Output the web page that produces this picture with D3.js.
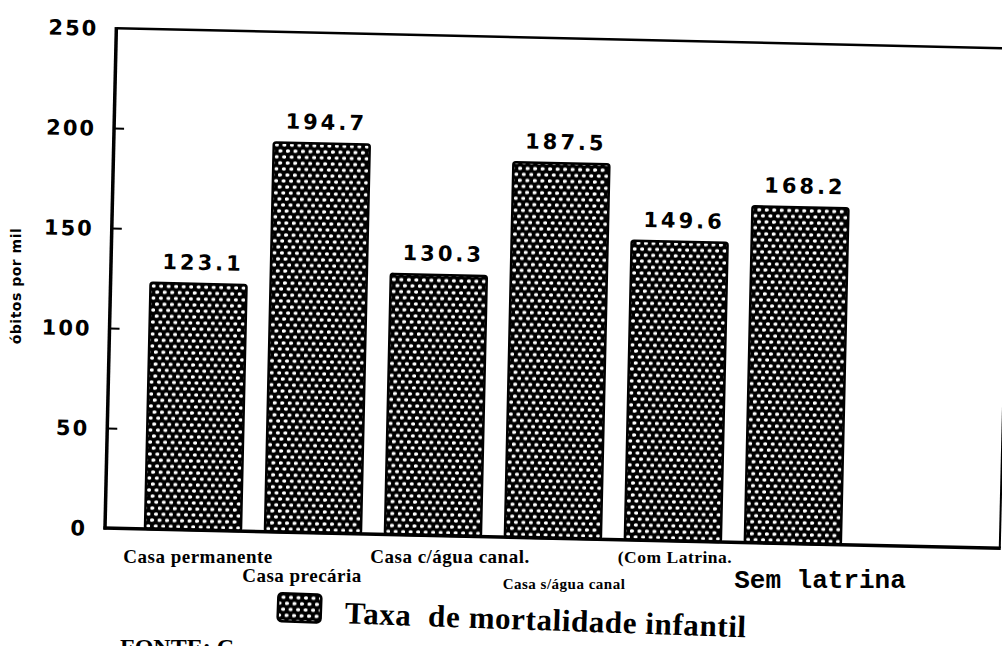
<!DOCTYPE html>
<html>
<head>
<meta charset="utf-8">
<script src="https://cdn.jsdelivr.net/npm/d3@7/dist/d3.min.js"></script>
<style>
  html, body { margin: 0; padding: 0; background: #fff; }
  svg { display: block; }
</style>
</head>
<body>
<script>
// ---- data ----
const categories = ["Casa permanente", "Casa precária", "Casa c/água canal.", "Casa s/água canal", "(Com Latrina.", "Sem latrina"];
const values = [123.1, 194.7, 130.3, 187.5, 149.6, 168.2];
const valueLabels = ["123.1", "194.7", "130.3", "187.5", "149.6", "168.2"];
const yTicks = [0, 50, 100, 150, 200, 250];
const yTitle = "óbitos por mil";
const legendLabel = "Taxa  de mortalidade infantil";
const sourceNote = "FONTE: C";

// ---- layout ----
const W = 1002, H = 646;
const x0 = 105, y0 = 528, xRight = 1000, yTop = 28;
const tilt = 1.3;

const svg = d3.select("body").append("svg").attr("width", W).attr("height", H);
const defs = svg.append("defs");
const pat = defs.append("pattern").attr("id", "dots").attr("patternUnits", "userSpaceOnUse")
  .attr("width", 7.5).attr("height", 12);
pat.append("rect").attr("width", 7.5).attr("height", 12).attr("fill", "#000");
pat.append("ellipse").attr("cx", 1.9).attr("cy", 3).attr("rx", 2.1).attr("ry", 1.8).attr("fill", "#fff");
pat.append("ellipse").attr("cx", 5.65).attr("cy", 9).attr("rx", 2.1).attr("ry", 1.8).attr("fill", "#fff");

const x = d3.scaleBand().domain(categories).range([133, 853]).paddingInner(0.2).paddingOuter(0.1);
const y = d3.scaleLinear().domain([0, 250]).range([y0, yTop]);

const g = svg.append("g").attr("transform", `rotate(${tilt},${x0},${y0})`);

// bars
g.selectAll("rect.bar").data(values).enter().append("rect")
  .attr("class", "bar")
  .attr("x", (d, i) => x(categories[i]))
  .attr("width", x.bandwidth())
  .attr("y", d => y(d))
  .attr("height", d => y(0) - y(d))
  .attr("rx", 2.5)
  .attr("fill", "url(#dots)")
  .attr("stroke", "#000").attr("stroke-width", 2.5);

// value labels
g.selectAll("text.val").data(valueLabels).enter().append("text")
  .attr("class", "val")
  .attr("x", (d, i) => x(categories[i]) + x.bandwidth() / 2 + 4)
  .attr("y", (d, i) => y(values[i]) - 14)
  .attr("text-anchor", "middle")
  .attr("font-family", "DejaVu Sans")
  .attr("font-weight", "bold")
  .attr("font-size", 21)
  .attr("letter-spacing", 3)
  .attr("fill", "#000")
  .text(d => d);

// frame (top and right)
g.append("line").attr("x1", x0).attr("y1", y(250)).attr("x2", xRight).attr("y2", y(250))
  .attr("stroke", "#000").attr("stroke-width", 2.5);
g.append("line").attr("x1", xRight).attr("y1", y(250)).attr("x2", xRight).attr("y2", y0)
  .attr("stroke", "#000").attr("stroke-width", 2);

// y axis with inward ticks
const yAxis = d3.axisRight(y).tickValues(yTicks.filter(t => t > 0 && t < 250)).tickSize(10).tickFormat("");
const ya = g.append("g").attr("transform", `translate(${x0},0)`).call(yAxis);
ya.select(".domain").remove();
ya.selectAll(".tick line").attr("stroke", "#000").attr("stroke-width", 2);

g.append("line").attr("x1", x0).attr("y1", y(250) - 1).attr("x2", x0).attr("y2", y0 + 1.5)
  .attr("stroke", "#000").attr("stroke-width", 3.5);
// x axis (bottom)
g.append("line").attr("x1", x0 - 1.5).attr("y1", y0).attr("x2", xRight + 1).attr("y2", y0)
  .attr("stroke", "#000").attr("stroke-width", 3.5);

// tick labels
g.selectAll("text.tick").data(yTicks).enter().append("text")
  .attr("class", "tick")
  .attr("x", x0 - 18)
  .attr("y", d => y(d) + 8)
  .attr("text-anchor", "end")
  .attr("font-family", "DejaVu Sans")
  .attr("font-weight", "bold")
  .attr("font-size", 21)
  .attr("letter-spacing", 2)
  .attr("fill", "#000")
  .text(d => d);

// y title
svg.append("text")
  .attr("transform", `translate(21,${286}) rotate(-90)`)
  .attr("text-anchor", "middle")
  .attr("font-family", "DejaVu Sans")
  .attr("font-weight", "bold")
  .attr("font-size", 14)
  .attr("letter-spacing", 0.5)
  .attr("fill", "#000")
  .text(yTitle);

// category labels (pasted, staggered)
const nudge = [5, -11, 17, 11, 2, 27];
svg.selectAll("text.cat").data(categories).enter().append("text")
  .attr("class", "cat")
  .attr("x", (d, i) => x(d) + x.bandwidth() / 2 + nudge[i])
  .attr("y", (d, i) => i === 5 ? 588 : (i % 2 === 0 ? 563 : (i === 3 ? 589 : 582)))
  .attr("text-anchor", "middle")
  .attr("font-family", (d, i) => i === 5 ? "Liberation Mono" : "Liberation Serif")
  .attr("font-weight", "bold")
  .attr("font-size", (d, i) => i === 5 ? 26 : (i === 3 ? 15 : (i === 4 ? 17.5 : 19)))
  .attr("letter-spacing", (d, i) => i === 5 ? 0 : 0.5)
  .attr("fill", "#000")
  .text(d => d);

// legend
const lg = svg.append("g").attr("transform", "rotate(2,277,607)");
lg.append("rect").attr("x", 278).attr("y", 593).attr("width", 43).attr("height", 28).attr("rx", 4)
  .attr("fill", "url(#dots)").attr("stroke", "#000").attr("stroke-width", 2.5);
lg.append("text").attr("x", 345).attr("y", 621)
  .attr("font-family", "Liberation Serif").attr("font-weight", "bold").attr("font-size", 31)
  .attr("letter-spacing", 0.6)
  .attr("fill", "#000").style("white-space", "pre").attr("xml:space", "preserve")
  .text(legendLabel);

// source note (cut off at bottom, as in the original scan)
svg.append("text").attr("x", 120).attr("y", 655)
  .attr("font-family", "Liberation Serif").attr("font-weight", "bold").attr("font-size", 24)
  .attr("fill", "#000").text(sourceNote);
</script>
</body>
</html>
